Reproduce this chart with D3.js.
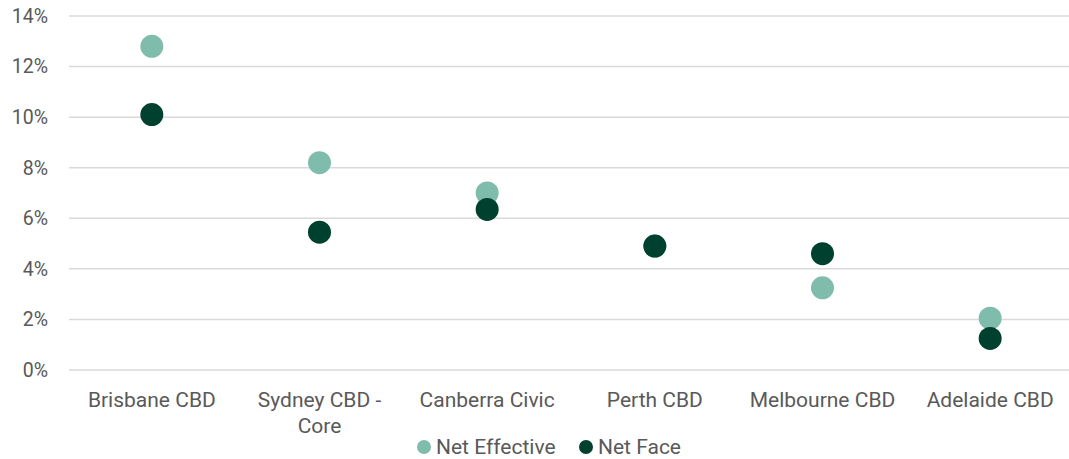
<!DOCTYPE html>
<html>
<head>
<meta charset="utf-8">
<script src="https://cdn.jsdelivr.net/npm/d3@7"></script>
<style>
  html, body { margin: 0; padding: 0; background: #fff; }
  svg { display: block; font-family: Roboto, "Noto Sans", sans-serif; }
</style>
</head>
<body>
<svg id="chart" width="1069" height="459"></svg>
<script>
// Rental growth by market
const categories = [["Brisbane CBD"], ["Sydney CBD -", "Core"], ["Canberra Civic"], ["Perth CBD"], ["Melbourne CBD"], ["Adelaide CBD"]];
const netEffective = [12.8, 8.2, 7.0, 4.9, 3.25, 2.05];
const netFace = [10.1, 5.45, 6.35, 4.9, 4.6, 1.25];
const yTicks = [0, 2, 4, 6, 8, 10, 12, 14];
const seriesNames = ["Net Effective", "Net Face"];
const seriesColors = ["#80bcac", "#00402e"];

const svg = d3.select("#chart");
const x = d3.scaleBand().domain(d3.range(categories.length)).range([68, 1074]);
const y = d3.scaleLinear().domain([0, 14]).range([370, 16]);

// gridlines
svg.append("g").selectAll("line").data(yTicks).join("line")
  .attr("x1", 69).attr("x2", 1069)
  .attr("y1", d => y(d)).attr("y2", d => y(d))
  .attr("stroke", "#d9d9d9").attr("stroke-width", 1.5);

// y axis labels
svg.append("g").selectAll("text").data(yTicks).join("text")
  .attr("x", 48).attr("y", d => y(d)).attr("dy", "0.35em")
  .attr("text-anchor", "end").attr("fill", "#595959").attr("font-size", 19.5)
  .text(d => d + "%");

// category labels
const cat = svg.append("g").selectAll("text").data(categories).join("text")
  .attr("x", (d, i) => x(i) + x.bandwidth() / 2).attr("y", 407)
  .attr("text-anchor", "middle").attr("fill", "#595959").attr("font-size", 21);
cat.selectAll("tspan").data(d => d).join("tspan")
  .attr("x", function () { return this.parentNode.getAttribute("x"); })
  .attr("dy", (d, i) => i === 0 ? 0 : 26)
  .text(d => d);

// points
[netEffective, netFace].forEach((vals, s) => {
  svg.append("g").selectAll("circle").data(vals).join("circle")
    .attr("cx", (d, i) => x(i) + x.bandwidth() / 2)
    .attr("cy", d => y(d))
    .attr("r", 11.5)
    .attr("fill", seriesColors[s]);
});

// legend
const legendX = [424, 586];
const lg = svg.append("g").selectAll("g").data(seriesNames).join("g")
  .attr("transform", (d, i) => `translate(${legendX[i]},447)`);
lg.append("circle").attr("r", 7).attr("fill", (d, i) => seriesColors[i]);
lg.append("text").attr("x", 12).attr("dy", "0.35em")
  .attr("fill", "#595959").attr("font-size", 21).text(d => d);
</script>
</body>
</html>
